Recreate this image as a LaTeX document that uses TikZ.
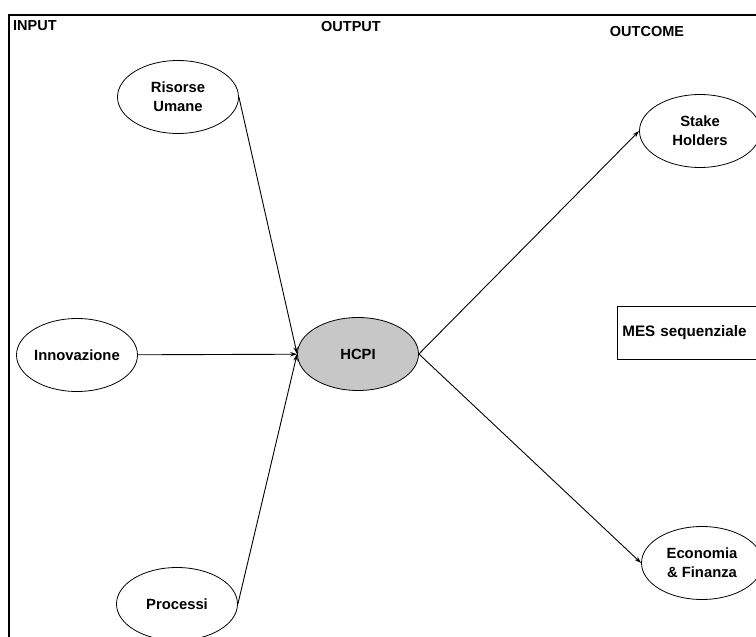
\documentclass[tikz,border=0pt]{standalone}
\usepackage{fontspec}
\setmainfont{Liberation Sans}
\usetikzlibrary{shapes.geometric,arrows.meta}

\begin{document}
\begin{tikzpicture}[
    x=1pt, y=-1pt,
    bubble/.style={ellipse, draw, line width=0.8pt, minimum width=121pt, minimum height=73pt,
                   inner sep=0pt, align=center, font=\bfseries\fontsize{14.8}{19}\selectfont},
    core/.style={bubble, fill=black!22},
    heading/.style={font=\bfseries\fontsize{14.5}{16}\selectfont, inner sep=0pt},
    arrow/.style={-{Stealth[length=7pt,width=4.5pt]}, line width=0.9pt}
]
\useasboundingbox (0,0) rectangle (756,637);
\clip (0,0) rectangle (756,637);

% outer frame, runs off the right and bottom
\draw[line width=1.6pt] (9,15) rectangle (800,700);

% column headings
\node[heading, anchor=west] (input) at (13,26) {INPUT};
\node[heading] (output) at (351,27) {OUTPUT};
\node[heading] (outcome) at (647,32) {OUTCOME};

% inputs
\node[bubble] (risorse) at (178,97) {Risorse\\Umane};
\node[bubble] (innov) at (77,355) {Innovazione};
\node[bubble] (processi) at (177,604) {Processi};

% output
\node[core] (hcpi) at (358,354) {HCPI};

% outcomes
\node[bubble] (stake) at (700,131) {Stake\\Holders};
\node[bubble] (econ) at (702,563) {Economia\\\& Finanza};

\node[draw, line width=0.8pt, anchor=north west, minimum width=160pt, minimum height=53pt,
      inner sep=3pt, text width=150pt, font=\bfseries\fontsize{15.2}{16}\selectfont] (mes) at (617,306) {MES sequenziale};

\draw[arrow] (risorse.east) -- (hcpi.west);
\draw[arrow] (innov) -- (hcpi);
\draw[arrow] (processi.east) -- (hcpi.west);
\draw[arrow] (hcpi.east) -- (stake.west);
\draw[arrow] (hcpi.east) -- (econ.west);
\end{tikzpicture}
\end{document}
